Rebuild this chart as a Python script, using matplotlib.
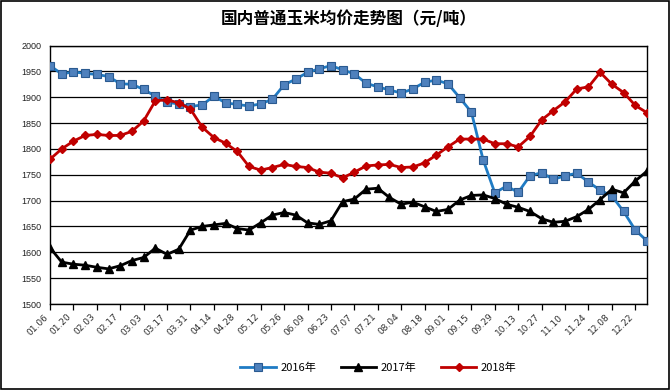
import numpy as np
import matplotlib
matplotlib.use('Agg')
import matplotlib.pyplot as plt
from matplotlib.patches import Rectangle

plt.rcParams['font.family'] = ['Noto Sans CJK SC', 'DejaVu Sans']

# 周度数据（元/吨），52周
weeks = ['01.06', '01.13', '01.20', '01.27', '02.03', '02.10', '02.17', '02.24',
         '03.03', '03.10', '03.17', '03.24', '03.31', '04.07', '04.14', '04.21',
         '04.28', '05.05', '05.12', '05.19', '05.26', '06.02', '06.09', '06.16',
         '06.23', '06.30', '07.07', '07.14', '07.21', '07.28', '08.04', '08.11',
         '08.18', '08.25', '09.01', '09.08', '09.15', '09.22', '09.29', '10.06',
         '10.13', '10.20', '10.27', '11.03', '11.10', '11.17', '11.24', '12.01',
         '12.08', '12.15', '12.22', '12.29']

price_2016 = [1961, 1945, 1949, 1946, 1944, 1940, 1926, 1925, 1915, 1902,
              1890, 1887, 1882, 1885, 1902, 1889, 1886, 1883, 1887, 1896,
              1924, 1935, 1948, 1955, 1961, 1953, 1945, 1927, 1920, 1914,
              1908, 1916, 1929, 1933, 1926, 1899, 1871, 1779, 1715, 1728,
              1716, 1748, 1754, 1741, 1748, 1753, 1736, 1720, 1709, 1679,
              1643, 1622]

price_2017 = [1609, 1581, 1577, 1575, 1571, 1568, 1574, 1584, 1590, 1608,
              1596, 1606, 1643, 1650, 1653, 1656, 1646, 1643, 1657, 1672,
              1677, 1672, 1657, 1654, 1661, 1698, 1703, 1722, 1724, 1706,
              1693, 1697, 1688, 1679, 1683, 1701, 1710, 1711, 1704, 1693,
              1687, 1679, 1665, 1658, 1660, 1669, 1683, 1702, 1722, 1715,
              1738, 1757]

price_2018 = [1780, 1800, 1815, 1826, 1828, 1826, 1826, 1834, 1854, 1893,
              1895, 1889, 1877, 1842, 1822, 1811, 1795, 1766, 1759, 1764,
              1770, 1766, 1764, 1755, 1753, 1744, 1755, 1767, 1769, 1770,
              1764, 1765, 1773, 1788, 1804, 1819, 1819, 1819, 1810, 1810,
              1804, 1824, 1856, 1874, 1891, 1916, 1920, 1948, 1925, 1909,
              1884, 1870]

fig = plt.figure(figsize=(6.7, 3.9), dpi=100)
ax = fig.add_axes([50/670, 1-304/390, 597/670, 258.5/390])

x = np.arange(len(weeks))
ax.plot(x, price_2016, color='#1f7bc4', lw=2.0, marker='s', ms=6,
        mfc='#4f81bd', mec='#2a5a90', mew=0.8, label='2016年', zorder=3)
ax.plot(x, price_2017, color='black', lw=2.0, marker='^', ms=5.5,
        mfc='black', mec='black', label='2017年', zorder=3)
ax.plot(x, price_2018, color='#c00000', lw=2.0, marker='D', ms=4,
        mfc='#c00000', mec='#c00000', label='2018年', zorder=3)

ax.set_xlim(0, len(weeks) - 1)
ax.set_ylim(1500, 2000)
ax.set_yticks(np.arange(1500, 2001, 50))
ax.yaxis.grid(True, color='black', lw=0.9)
ax.set_axisbelow(True)
ax.tick_params(axis='y', length=0, labelsize=6.5, pad=6, labelcolor='#222222')
for lab in ax.get_yticklabels():
    lab.set_family('Liberation Sans')

ax.set_xticks(x[::2])
ax.set_xticklabels(weeks[::2], rotation=45, ha='right', va='top',
                   fontsize=6.5, color='#333333', family='DejaVu Sans')
ax.tick_params(axis='x', direction='out', length=4, width=0.9, pad=2)
for s in ax.spines.values():
    s.set_color('black')
    s.set_linewidth(1.0)

fig.suptitle('国内普通玉米均价走势图（元/吨）', x=0.52, y=0.975,
             fontsize=12, fontweight='bold')

ax.legend(loc='center', bbox_to_anchor=(0.55, -0.245), ncol=3, frameon=False,
          fontsize=8, handlelength=3.2, columnspacing=2.2, handletextpad=0.4)

fig.patches.append(Rectangle((0.0015, 0.0025), 0.997, 0.995, transform=fig.transFigure,
                             fill=False, edgecolor='black', lw=1.2))

fig.savefig('out.png', dpi=100)
